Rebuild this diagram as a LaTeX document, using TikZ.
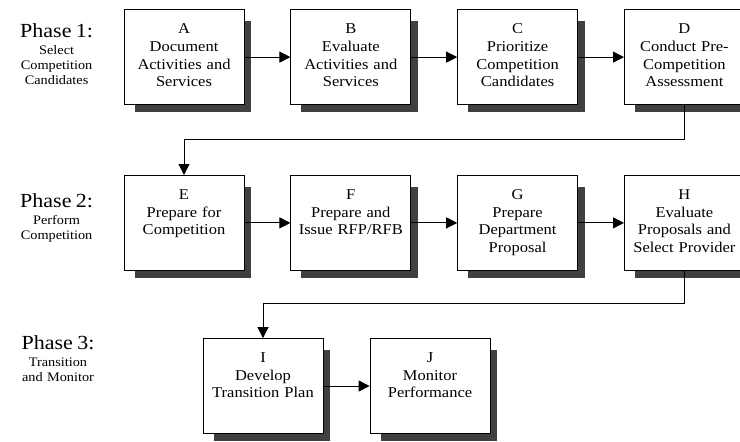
\documentclass[tikz,border=0pt]{standalone}
\usepackage{fontspec}
\setmainfont{Liberation Serif}[FakeStretch=1.1]
\usetikzlibrary{matrix,arrows.meta,backgrounds}

\begin{document}
\begin{tikzpicture}[x=1pt,y=-1pt,
    stepbox/.style={draw, fill=white, line width=0.8pt, minimum width=120pt,
      text width=112pt, align=center, inner xsep=4pt, inner ysep=4pt,
      text height=20pt, text depth=67pt, font=\fontsize{15}{17.7}\selectfont},
    phase/.style={text width=86pt, align=center, inner sep=0pt,
      font=\fontsize{13}{15}\selectfont},
    flow/.style={-{Triangle[length=11pt,width=11pt]}, line width=1pt}]
  \path[use as bounding box, clip] (0,0) rectangle (740,442);
  \matrix (m) [matrix of nodes, inner sep=0pt, row sep=70pt, column sep=46pt,
    column 1/.style={nodes={phase, yshift=-4pt}}, column 2/.style={nodes=stepbox},
    column 3/.style={nodes=stepbox}, column 4/.style={nodes=stepbox},
    column 5/.style={nodes=stepbox}, anchor=north east] at (745,9)
  {
    {{\fontsize{20}{21}\selectfont Phase 1:}\\[2pt]Select\\Competition\\Candidates}
      &[-22pt] {A\\Document\\Activities and\\Services}
      & {B\\Evaluate\\Activities and\\Services}
      & {C\\Prioritize\\Competition\\Candidates}
      & {D\\Conduct Pre-\\Competition\\Assessment} \\
    |[yshift=-4pt]| {{\fontsize{20}{21}\selectfont Phase 2:}\\[2pt]Perform\\Competition}
      &[-22pt] {E\\Prepare for\\Competition}
      & {F\\Prepare and\\Issue RFP/RFB}
      & {G\\Prepare\\Department\\Proposal}
      & {H\\Evaluate\\Proposals and\\Select Provider} \\
  };
  \node[phase] (p3) at (58,359)
    {{\fontsize{20}{21}\selectfont Phase 3:}\\[2pt]Transition\\and Monitor};
  \node[stepbox] (I) at (263,386) {I\\Develop\\Transition Plan};
  \node[stepbox] (J) at (430,386) {J\\Monitor\\Performance};

  % shadows behind the boxes
  \begin{scope}[on background layer]
    \foreach \n in {m-1-2,m-1-3,m-1-4,m-1-5,m-2-2,m-2-3,m-2-4,m-2-5,I,J}
      \fill[black!75] ([shift={(11,12)}]\n.north west)
        rectangle ([shift={(7,7)}]\n.south east);
  \end{scope}

  \path[flow]
    (m-1-2) edge (m-1-3)
    (m-1-3) edge (m-1-4)
    (m-1-4) edge (m-1-5)
    (m-2-2) edge (m-2-3)
    (m-2-3) edge (m-2-4)
    (m-2-4) edge (m-2-5)
    (I) edge (J);
  \draw[flow] (m-1-5.south) -- ++(0,34) -| (m-2-2.north);
  \draw[flow] (m-2-5.south) -- ++(0,33) -| (I.north);
\end{tikzpicture}
\end{document}
